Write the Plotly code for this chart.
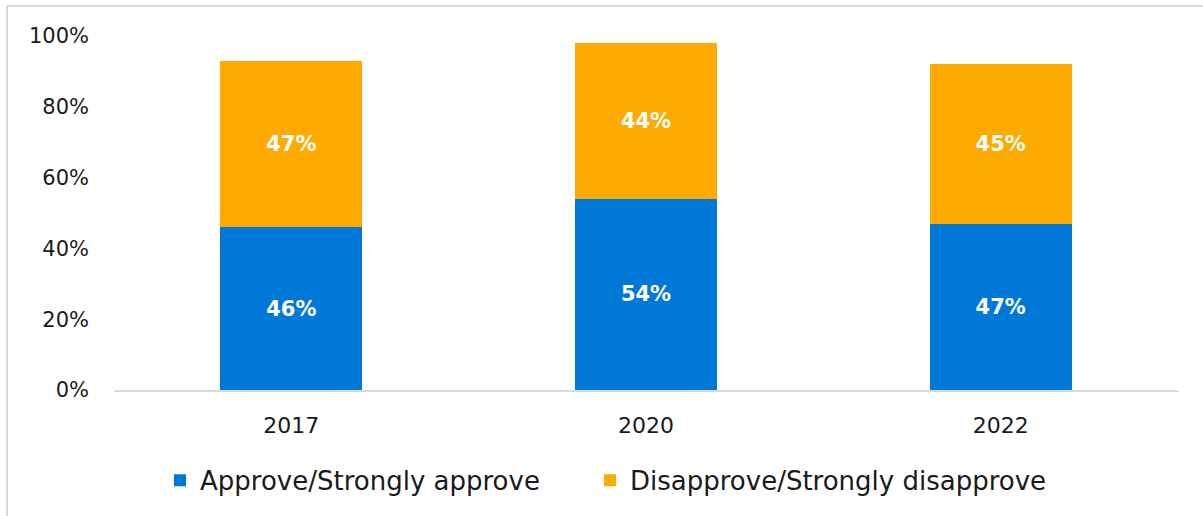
import plotly.graph_objects as go

# Survey results by year (share of respondents)
years = ["2017", "2020", "2022"]
approve = [46, 54, 47]
disapprove = [47, 44, 45]

series_names = ["Approve/Strongly approve", "Disapprove/Strongly disapprove"]
colors = ["#0078D7", "#FFAA00"]

FONT = "DejaVu Sans, Open Sans, sans-serif"
TEXT_COLOR = "#1a1a1a"

# each series gets its own legend box so the two entries can be spaced freely
legend_ids = ["legend", "legend2"]
legend_left_px = [160, 590]

fig = go.Figure()
for name, vals, col, lg in zip(series_names, [approve, disapprove], colors, legend_ids):
    fig.add_trace(go.Bar(
        x=years,
        y=[v / 100 for v in vals],
        name=name,
        legend=lg,
        showlegend=True,
        marker=dict(color=col, line=dict(width=0)),
        text=[f"{v}%" for v in vals],
        textposition="inside",
        insidetextanchor="middle",
        textangle=0,
        textfont=dict(family=FONT, size=21, color="white", weight="bold"),
        hoverinfo="skip",
    ))

legend_style = dict(
    orientation="h",
    xanchor="left",
    y=-0.255,
    yanchor="middle",
    font=dict(size=26, color=TEXT_COLOR),
    itemwidth=30,
    bgcolor="rgba(0,0,0,0)",
    visible=True,
)

fig.update_layout(
    showlegend=True,
    barmode="stack",
    bargap=0.6,
    width=1203,
    height=516,
    margin=dict(l=114, r=25, t=36, b=126),
    paper_bgcolor="white",
    plot_bgcolor="white",
    font=dict(family=FONT, color=TEXT_COLOR),
    xaxis=dict(
        showgrid=False,
        showline=True,
        linecolor="#D9D9D9",
        linewidth=1.5,
        ticks="",
        tickfont=dict(size=22, color=TEXT_COLOR),
        ticklabelstandoff=15,
    ),
    yaxis=dict(
        range=[0, 1.0],
        tickvals=[0, 0.2, 0.4, 0.6, 0.8, 1.0],
        tickformat=".0%",
        showgrid=False,
        zeroline=False,
        showline=False,
        ticks="",
        tickfont=dict(size=21, color=TEXT_COLOR),
        ticklabelstandoff=24,
    ),
    legend=dict(legend_style, x=(legend_left_px[0] - 114) / 1064),
    legend2=dict(legend_style, x=(legend_left_px[1] - 114) / 1064),
    shapes=[
        # light chart-area frame (open on the right and bottom edges)
        dict(type="line", xref="paper", yref="paper",
             x0=-107 / 1064, x1=1.1, y0=1 + 30 / 354, y1=1 + 30 / 354,
             line=dict(color="#D9D9D9", width=2)),
        dict(type="line", xref="paper", yref="paper",
             x0=-107 / 1064, x1=-107 / 1064, y0=1 + 30 / 354, y1=-0.5,
             line=dict(color="#D9D9D9", width=2)),
    ],
)

fig.write_html("out.html")
